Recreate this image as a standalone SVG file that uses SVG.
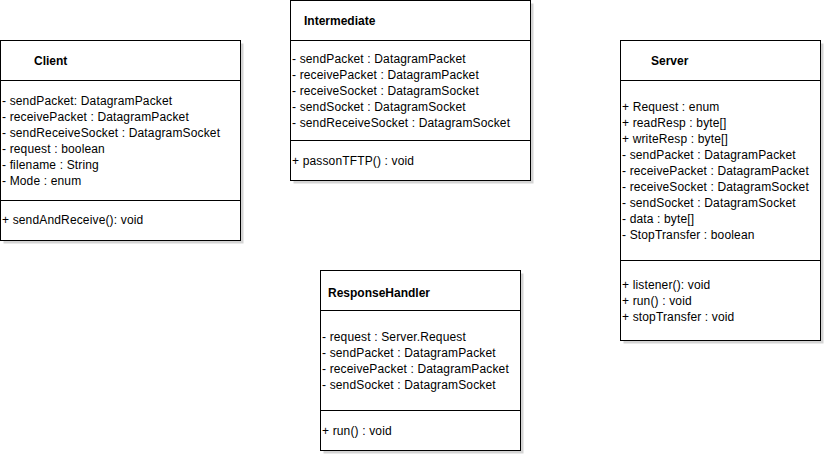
<svg xmlns="http://www.w3.org/2000/svg" width="825" height="455" viewBox="0 0 825 455">
<style>
.shadow{fill:#d4d4d4;stroke:none}
.box{fill:#ffffff;stroke:#000000;stroke-width:1}
.div{stroke:#000000;stroke-width:1}
text{font-family:"Liberation Sans",Arial,Helvetica,sans-serif;font-size:12px;fill:#000000;letter-spacing:0.15px}
.title{font-weight:bold;letter-spacing:0}
</style>
<rect width="825" height="455" fill="#ffffff"/>
<g id="connectors"></g>
<g id="Client">
<rect class="shadow" x="3.5" y="43.5" width="240" height="200"/>
<rect class="box" x="0.5" y="40.5" width="240" height="200"/>
<line class="div" x1="0.5" y1="80.5" x2="240.5" y2="80.5"/>
<line class="div" x1="0.5" y1="200.5" x2="240.5" y2="200.5"/>
<text class="title" x="34" y="65">Client</text>
<text x="2" y="105">- sendPacket: DatagramPacket</text>
<text x="2" y="121">- receivePacket : DatagramPacket</text>
<text x="2" y="137">- sendReceiveSocket : DatagramSocket</text>
<text x="2" y="153">- request : boolean</text>
<text x="2" y="169">- filename : String</text>
<text x="2" y="185">- Mode : enum</text>
<text x="2" y="224">+ sendAndReceive(): void</text>
</g>
<g id="Intermediate">
<rect class="shadow" x="293.5" y="3.5" width="240" height="180"/>
<rect class="box" x="290.5" y="0.5" width="240" height="180"/>
<line class="div" x1="290.5" y1="40.5" x2="530.5" y2="40.5"/>
<line class="div" x1="290.5" y1="140.5" x2="530.5" y2="140.5"/>
<text class="title" x="304" y="25">Intermediate</text>
<text x="292" y="63">- sendPacket : DatagramPacket</text>
<text x="292" y="79">- receivePacket : DatagramPacket</text>
<text x="292" y="95">- receiveSocket : DatagramSocket</text>
<text x="292" y="111">- sendSocket : DatagramSocket</text>
<text x="292" y="127">- sendReceiveSocket : DatagramSocket</text>
<text x="292" y="165">+ passonTFTP() : void</text>
</g>
<g id="Server">
<rect class="shadow" x="623.5" y="43.5" width="200" height="300"/>
<rect class="box" x="620.5" y="40.5" width="200" height="300"/>
<line class="div" x1="620.5" y1="80.5" x2="820.5" y2="80.5"/>
<line class="div" x1="620.5" y1="260.5" x2="820.5" y2="260.5"/>
<text class="title" x="651" y="65">Server</text>
<text x="622" y="111">+ Request : enum</text>
<text x="622" y="127">+ readResp : byte[]</text>
<text x="622" y="143">+ writeResp : byte[]</text>
<text x="622" y="159">- sendPacket : DatagramPacket</text>
<text x="622" y="175">- receivePacket : DatagramPacket</text>
<text x="622" y="191">- receiveSocket : DatagramSocket</text>
<text x="622" y="207">- sendSocket : DatagramSocket</text>
<text x="622" y="223">- data : byte[]</text>
<text x="622" y="239">- StopTransfer : boolean</text>
<text x="622" y="289">+ listener(): void</text>
<text x="622" y="305">+ run() : void</text>
<text x="622" y="321">+ stopTransfer : void</text>
</g>
<g id="ResponseHandler">
<rect class="shadow" x="323.5" y="273.5" width="200" height="180"/>
<rect class="box" x="320.5" y="270.5" width="200" height="180"/>
<line class="div" x1="320.5" y1="310.5" x2="520.5" y2="310.5"/>
<line class="div" x1="320.5" y1="410.5" x2="520.5" y2="410.5"/>
<text class="title" x="328" y="297">ResponseHandler</text>
<text x="322" y="341">- request : Server.Request</text>
<text x="322" y="357">- sendPacket : DatagramPacket</text>
<text x="322" y="373">- receivePacket : DatagramPacket</text>
<text x="322" y="389">- sendSocket : DatagramSocket</text>
<text x="322" y="435">+ run() : void</text>
</g>
</svg>
